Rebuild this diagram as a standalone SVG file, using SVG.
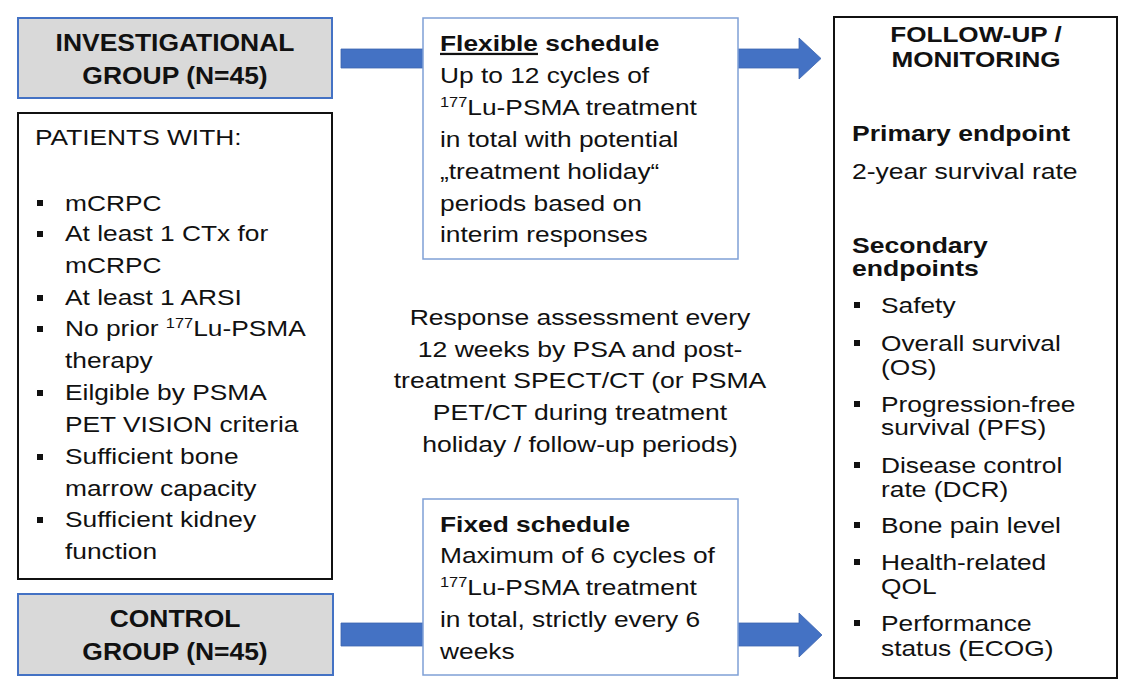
<svg xmlns="http://www.w3.org/2000/svg" width="1138" height="692" viewBox="0 0 1138 692">
<style>
text{font-family:"Liberation Sans",Arial,sans-serif;fill:#111;}
.b{font-weight:bold;font-size:23px;}
.bb{font-weight:bold;font-size:22.5px;}
.r{font-size:22.5px;}
.sup{font-size:14px;}
.grp{fill:#d9d9d9;stroke:#4472c4;stroke-width:2;}
.sch{fill:#fff;stroke:#7fa0d6;stroke-width:1.5;}
.blk{fill:#fff;stroke:#111;stroke-width:2;}
.arr{fill:#4472c4;stroke:#3d66b0;stroke-width:0.8;}
.bul{fill:#111;}
</style>
<rect width="1138" height="692" fill="#fff"/>
<g id="connectors">
<path class="arr" d="M341,49 H799 V38 L821,58.5 L799,79 V68 H341 Z"/>
<path class="arr" d="M341,623 H799 V613 L822,635 L799,657 V646 H341 Z"/>
</g>
<g id="investigational">
<rect class="grp" x="18" y="18" width="314" height="80"/>
<g transform="translate(175,0) scale(1.15,1)">
<text class="b" x="0" y="51" text-anchor="middle">INVESTIGATIONAL</text>
<text class="b" x="0" y="84" text-anchor="middle">GROUP (N=45)</text>
</g>
</g>
<g id="patients">
<rect class="blk" x="18" y="113" width="314" height="466"/>
<g transform="translate(35,0) scale(1.17,1)">
<text class="r" x="0" y="145">PATIENTS WITH:</text>
</g>
<rect class="bul" x="37" y="200" width="6" height="6"/>
<rect class="bul" x="37" y="231" width="6" height="6"/>
<rect class="bul" x="37" y="295" width="6" height="6"/>
<rect class="bul" x="37" y="326" width="6" height="6"/>
<rect class="bul" x="37" y="390" width="6" height="6"/>
<rect class="bul" x="37" y="454" width="6" height="6"/>
<rect class="bul" x="37" y="517" width="6" height="6"/>
<g transform="translate(65,0) scale(1.17,1)">
<text class="r" x="0" y="211">mCRPC</text>
<text class="r" x="0" y="241">At least 1 CTx for</text>
<text class="r" x="0" y="273">mCRPC</text>
<text class="r" x="0" y="305">At least 1 ARSI</text>
<text class="r" x="0" y="336">No prior <tspan class="sup" dy="-8">177</tspan><tspan dy="8">Lu-PSMA</tspan></text>
<text class="r" x="0" y="368">therapy</text>
<text class="r" x="0" y="400">Eilgible by PSMA</text>
<text class="r" x="0" y="432">PET VISION criteria</text>
<text class="r" x="0" y="464">Sufficient bone</text>
<text class="r" x="0" y="496">marrow capacity</text>
<text class="r" x="0" y="527">Sufficient kidney</text>
<text class="r" x="0" y="559">function</text>
</g>
</g>
<g id="control">
<rect class="grp" x="18" y="594" width="315" height="81"/>
<g transform="translate(175,0) scale(1.15,1)">
<text class="b" x="0" y="627" text-anchor="middle">CONTROL</text>
<text class="b" x="0" y="660" text-anchor="middle">GROUP (N=45)</text>
</g>
</g>
<g id="flexible">
<rect class="sch" x="423" y="18" width="315" height="241"/>
<g transform="translate(440,0) scale(1.17,1)">
<text class="bb" x="0" y="51"><tspan text-decoration="underline">Flexible</tspan> schedule</text>
<text class="r" x="0" y="83">Up to 12 cycles of</text>
<text class="r" x="0" y="115"><tspan class="sup" dy="-8">177</tspan><tspan dy="8">Lu-PSMA treatment</tspan></text>
<text class="r" x="0" y="147">in total with potential</text>
<text class="r" x="0" y="179">„treatment holiday“</text>
<text class="r" x="0" y="211">periods based on</text>
<text class="r" x="0" y="242">interim responses</text>
</g>
</g>
<g id="response">
<g transform="translate(580,0) scale(1.18,1)">
<text class="r" x="0" y="325" text-anchor="middle">Response assessment every</text>
<text class="r" x="0" y="357" text-anchor="middle">12 weeks by PSA and post-</text>
<text class="r" x="0" y="388" text-anchor="middle">treatment SPECT/CT (or PSMA</text>
<text class="r" x="0" y="420" text-anchor="middle">PET/CT during treatment</text>
<text class="r" x="0" y="452" text-anchor="middle">holiday / follow-up periods)</text>
</g>
</g>
<g id="fixed">
<rect class="sch" x="423" y="499" width="315" height="176"/>
<g transform="translate(440,0) scale(1.17,1)">
<text class="bb" x="0" y="532">Fixed schedule</text>
<text class="r" x="0" y="563">Maximum of 6 cycles of</text>
<text class="r" x="0" y="595"><tspan class="sup" dy="-8">177</tspan><tspan dy="8">Lu-PSMA treatment</tspan></text>
<text class="r" x="0" y="627">in total, strictly every 6</text>
<text class="r" x="0" y="659">weeks</text>
</g>
</g>
<g id="followup">
<rect class="blk" x="834" y="17" width="283" height="661"/>
<g transform="translate(976,0) scale(1.16,1)">
<text class="bb" x="0" y="42" text-anchor="middle">FOLLOW-UP /</text>
<text class="bb" x="0" y="67" text-anchor="middle">MONITORING</text>
</g>
<g transform="translate(852,0) scale(1.18,1)">
<text class="bb" x="0" y="141">Primary endpoint</text>
<text class="r" x="0" y="179">2-year survival rate</text>
<text class="bb" x="0" y="253">Secondary</text>
<text class="bb" x="0" y="276">endpoints</text>
</g>
<rect class="bul" x="854" y="302" width="6" height="6"/>
<rect class="bul" x="854" y="340" width="6" height="6"/>
<rect class="bul" x="854" y="401" width="6" height="6"/>
<rect class="bul" x="854" y="462" width="6" height="6"/>
<rect class="bul" x="854" y="522" width="6" height="6"/>
<rect class="bul" x="854" y="559" width="6" height="6"/>
<rect class="bul" x="854" y="620" width="6" height="6"/>
<g transform="translate(881,0) scale(1.17,1)">
<text class="r" x="0" y="313">Safety</text>
<text class="r" x="0" y="351">Overall survival</text>
<text class="r" x="0" y="375">(OS)</text>
<text class="r" x="0" y="412">Progression-free</text>
<text class="r" x="0" y="435">survival (PFS)</text>
<text class="r" x="0" y="473">Disease control</text>
<text class="r" x="0" y="497">rate (DCR)</text>
<text class="r" x="0" y="533">Bone pain level</text>
<text class="r" x="0" y="570">Health-related</text>
<text class="r" x="0" y="594">QOL</text>
<text class="r" x="0" y="631">Performance</text>
<text class="r" x="0" y="656">status (ECOG)</text>
</g>
</g>
</svg>
